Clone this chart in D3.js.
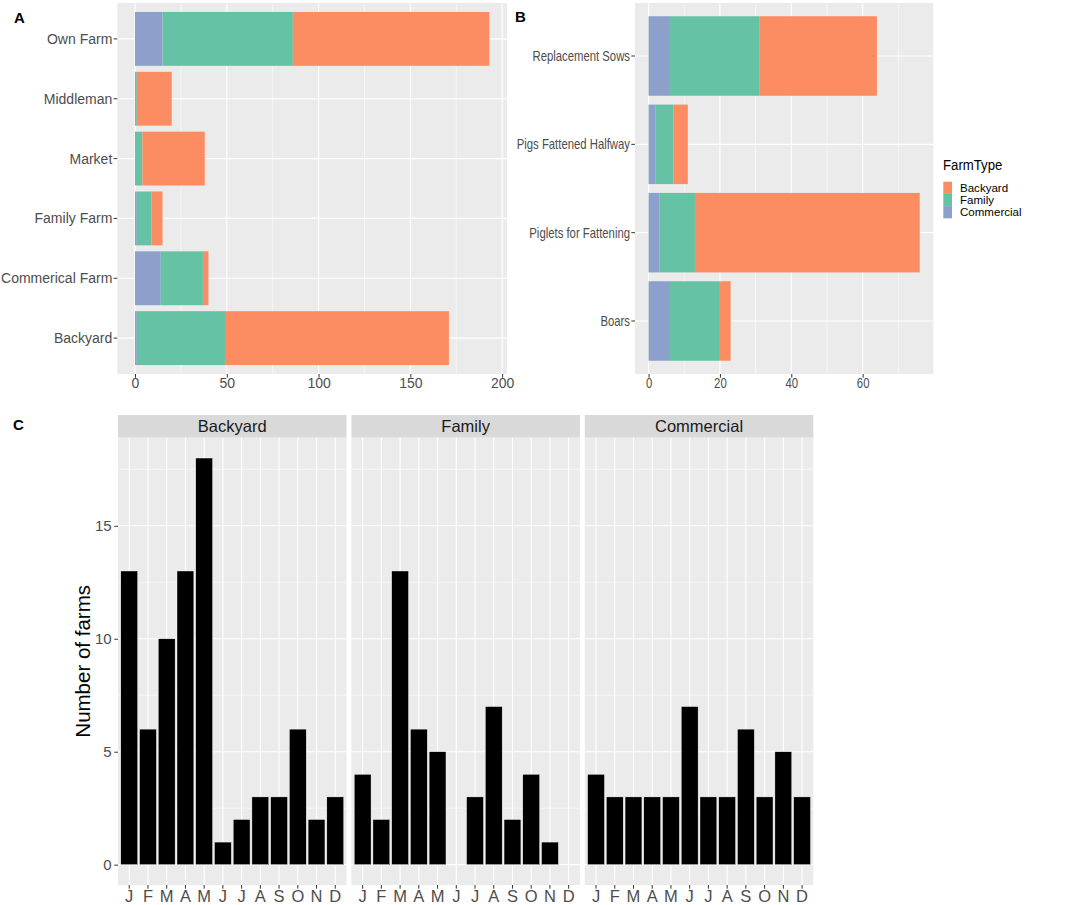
<!DOCTYPE html>
<html>
<head>
<meta charset="utf-8">
<script src="https://cdn.jsdelivr.net/npm/d3@7"></script>
<style>
  body { margin: 0; background: #fff; }
  text { font-family: "Liberation Sans", Arial, sans-serif; }
</style>
</head>
<body>
<script>
// ---------- DATA ----------
const sourceCategories = ["Own Farm", "Middleman", "Market", "Family Farm", "Commerical Farm", "Backyard"];
const sourceCommercial = [15, 0, 0, 1, 14, 1];
const sourceFamily     = [71, 1, 4, 8, 23, 48];
const sourceBackyard   = [107, 19, 34, 6, 3, 122];
const sourceTicks = [0, 50, 100, 150, 200];
const sourceMinor = [25, 75, 125, 175];

const pigCategories = ["Replacement Sows", "Pigs Fattened Halfway", "Piglets for Fattening", "Boars"];
const pigCommercial = [6, 2, 3, 6];
const pigFamily     = [25, 5, 10, 14];
const pigBackyard   = [33, 4, 63, 3];
const pigTicks = [0, 20, 40, 60];
const pigMinor = [10, 30, 50, 70];

const farmTypes = ["Backyard", "Family", "Commercial"];
const farmColors = ["#fc8d62", "#66c2a5", "#8da0cb"];

const months = ["J", "F", "M", "A", "M", "J", "J", "A", "S", "O", "N", "D"];
const monthBackyard   = [13, 6, 10, 13, 18, 1, 2, 3, 3, 6, 2, 3];
const monthFamily     = [4, 2, 13, 6, 5, 0, 3, 7, 2, 4, 1, 0];
const monthCommercial = [4, 3, 3, 3, 3, 7, 3, 3, 6, 3, 5, 3];
const countTicks = [0, 5, 10, 15];
const countMinor = [2.5, 7.5, 12.5, 17.5];

// ---------- SETUP ----------
const W = 1084, H = 905;
const svg = d3.select("body").append("svg").attr("width", W).attr("height", H);
const PANEL_BG = "#ebebeb", GRID = "#ffffff", TICK_TXT = "#4d4d4d", TICK_LINE = "#333333";

function styleAxis(g, size, sx) {
  g.select(".domain").remove();
  g.selectAll(".tick line").attr("stroke", TICK_LINE).attr("stroke-width", 1);
  g.selectAll(".tick text").attr("fill", TICK_TXT).style("font-size", size + "px")
    .attr("font-family", null);
  if (sx && sx !== 1) {
    g.selectAll(".tick text").each(function() {
      const t = d3.select(this);
      const x = +t.attr("x") || 0;
      t.attr("x", x / sx).attr("transform", `scale(${sx},1)`);
    });
  }
}

function stackedPanel(cats, comm, fam, back, ticks, minor, box, sx) {
  const totals = cats.map((c, i) => comm[i] + fam[i] + back[i]);
  const mx = d3.max(totals);
  const x = d3.scaleLinear().domain([-0.05 * mx, 1.05 * mx]).range([box.x0, box.x1]);
  const y = d3.scaleBand().domain(cats).range([box.y0, box.y1]).paddingInner(0.1).paddingOuter(0.15);
  const g = svg.append("g");
  g.append("rect").attr("x", box.x0).attr("y", box.y0).attr("width", box.x1 - box.x0)
    .attr("height", box.y1 - box.y0).attr("fill", PANEL_BG);
  g.selectAll(".minor").data(minor).join("line")
    .attr("x1", d => x(d)).attr("x2", d => x(d)).attr("y1", box.y0).attr("y2", box.y1)
    .attr("stroke", GRID).attr("stroke-width", 0.55);
  g.selectAll(".majx").data(ticks).join("line")
    .attr("x1", d => x(d)).attr("x2", d => x(d)).attr("y1", box.y0).attr("y2", box.y1)
    .attr("stroke", GRID).attr("stroke-width", 1.1);
  g.selectAll(".majy").data(cats).join("line")
    .attr("x1", box.x0).attr("x2", box.x1)
    .attr("y1", d => y(d) + y.bandwidth() / 2).attr("y2", d => y(d) + y.bandwidth() / 2)
    .attr("stroke", GRID).attr("stroke-width", 1.1);
  // stacked: Commercial, Family, Backyard from zero
  const rows = cats.map((c, i) => ({ cat: c, Commercial: comm[i], Family: fam[i], Backyard: back[i] }));
  const stack = d3.stack().keys(["Commercial", "Family", "Backyard"]);
  const series = stack(rows);
  const colorOf = k => farmColors[farmTypes.indexOf(k)];
  g.selectAll(".ser").data(series).join("g").attr("fill", s => colorOf(s.key))
    .selectAll("rect").data(s => s).join("rect")
    .attr("x", d => x(d[0])).attr("width", d => Math.max(0, x(d[1]) - x(d[0])))
    .attr("y", d => y(d.data.cat)).attr("height", y.bandwidth());
  const ax = svg.append("g").attr("transform", `translate(0,${box.y1})`)
    .call(d3.axisBottom(x).tickValues(ticks).tickSize(3.7).tickPadding(0).tickFormat(d3.format("d")));
  styleAxis(ax, 14, sx);
  const ay = svg.append("g").attr("transform", `translate(${box.x0},0)`)
    .call(d3.axisLeft(y).tickSize(3.7).tickPadding(1.3));
  styleAxis(ay, 14, sx);
  ay.selectAll(".tick text").attr("dy", "0.36em");
}

// Panel A
stackedPanel(sourceCategories, sourceCommercial, sourceFamily, sourceBackyard, sourceTicks, sourceMinor,
  { x0: 117.3, x1: 507, y0: 3, y1: 374 }, 1);
// Panel B
stackedPanel(pigCategories, pigCommercial, pigFamily, pigBackyard, pigTicks, pigMinor,
  { x0: 635, x1: 933.3, y0: 3, y1: 374 }, 0.81);

// Panel labels
svg.append("text").attr("x", 14).attr("y", 22.5).text("A").attr("font-weight", "bold").style("font-size", "15px");
svg.append("text").attr("x", 515).attr("y", 22).text("B").attr("font-weight", "bold").style("font-size", "15px");
svg.append("text").attr("x", 13).attr("y", 430).text("C").attr("font-weight", "bold").style("font-size", "15px");

// Legend
const lg = svg.append("g");
lg.append("text").attr("transform", "translate(943,170) scale(0.88,1)").text("FarmType")
  .style("font-size", "15px").attr("fill", "#000");
const keyY = [181.7, 193.9, 206.1];
farmTypes.forEach((t, i) => {
  lg.append("rect").attr("x", 943.3).attr("y", keyY[i]).attr("width", 8.7).attr("height", 12.2)
    .attr("fill", farmColors[i]);
  lg.append("text").attr("transform", `translate(960,${keyY[i] + 6.1}) scale(1.05,1)`).attr("dy", "0.36em")
    .text(t).style("font-size", "11px").attr("fill", "#000");
});

// Panel C facets
const facetData = [monthBackyard, monthFamily, monthCommercial];
const facetX = [118, 351.4, 584.8];
const facetW = 228.5;
const stripY0 = 415, panelY0 = 437.7, panelY1 = 885;
const yMax = d3.max(facetData.flat());
const yC = d3.scaleLinear().domain([-0.05 * yMax, 1.05 * yMax]).range([panelY1, panelY0]);
facetData.forEach((vals, fi) => {
  const x0 = facetX[fi], x1 = x0 + facetW;
  const idx = months.map((m, i) => i);
  const xb = d3.scaleBand().domain(idx).range([x0, x1]).paddingInner(0.1).paddingOuter(0.15);
  const g = svg.append("g");
  g.append("rect").attr("x", x0).attr("y", stripY0).attr("width", facetW).attr("height", panelY0 - stripY0)
    .attr("fill", "#d9d9d9");
  g.append("text").attr("x", (x0 + x1) / 2).attr("y", (stripY0 + panelY0) / 2).attr("dy", "0.36em")
    .attr("text-anchor", "middle").text(farmTypes[fi]).style("font-size", "16.5px").attr("fill", "#1a1a1a");
  g.append("rect").attr("x", x0).attr("y", panelY0).attr("width", facetW).attr("height", panelY1 - panelY0)
    .attr("fill", PANEL_BG);
  g.selectAll(".mn").data(countMinor).join("line")
    .attr("x1", x0).attr("x2", x1).attr("y1", d => yC(d)).attr("y2", d => yC(d))
    .attr("stroke", GRID).attr("stroke-width", 0.55);
  g.selectAll(".mj").data(countTicks).join("line")
    .attr("x1", x0).attr("x2", x1).attr("y1", d => yC(d)).attr("y2", d => yC(d))
    .attr("stroke", GRID).attr("stroke-width", 1.1);
  g.selectAll(".mx").data(idx).join("line")
    .attr("x1", d => xb(d) + xb.bandwidth() / 2).attr("x2", d => xb(d) + xb.bandwidth() / 2)
    .attr("y1", panelY0).attr("y2", panelY1).attr("stroke", GRID).attr("stroke-width", 1.1);
  g.selectAll(".bar").data(vals.map((v, i) => ({ i, v })).filter(d => d.v > 0)).join("rect")
    .attr("x", d => xb(d.i)).attr("width", xb.bandwidth())
    .attr("y", d => yC(d.v)).attr("height", d => yC(0) - yC(d.v))
    .attr("fill", "#000").attr("stroke", "#fff").attr("stroke-width", 0.4);
  const ax = svg.append("g").attr("transform", `translate(0,${panelY1})`)
    .call(d3.axisBottom(xb).tickSize(3.7).tickPadding(1.6).tickFormat(i => months[i]));
  styleAxis(ax, 16.5, 1);
  if (fi === 0) {
    const ay = svg.append("g").attr("transform", `translate(${x0},0)`)
      .call(d3.axisLeft(yC).tickValues(countTicks).tickSize(3.7).tickPadding(2.6));
    styleAxis(ay, 15, 1);
  }
});

svg.append("text").attr("transform", `translate(89.5,${(panelY0 + panelY1) / 2}) rotate(-90)`)
  .attr("text-anchor", "middle").text("Number of farms").style("font-size", "20.5px").attr("fill", "#000");
</script>
</body>
</html>
